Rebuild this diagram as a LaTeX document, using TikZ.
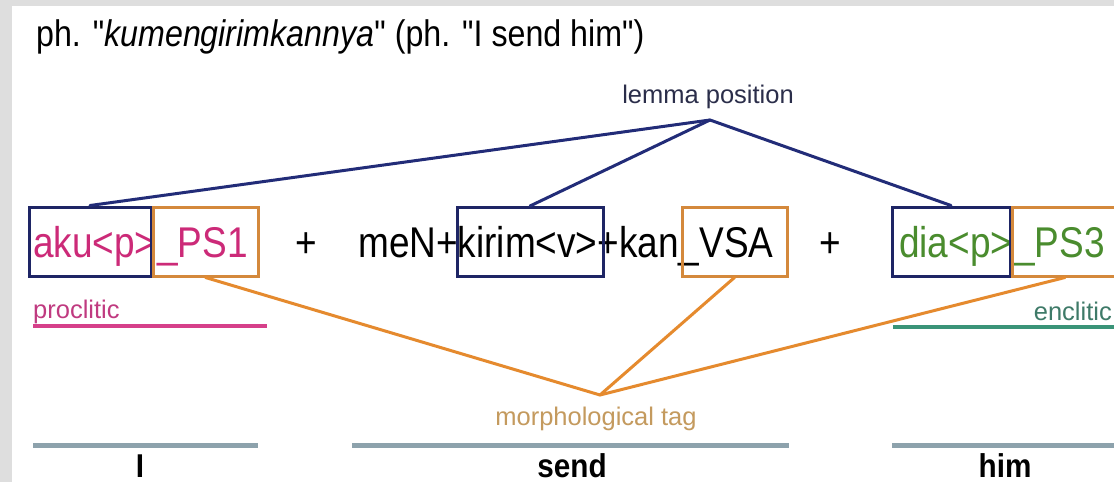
\documentclass[tikz,border=0pt]{standalone}
\usepackage{fontspec}
\setmainfont{Liberation Sans}
\newfontfamily\rowfont[FakeStretch=0.86]{Liberation Sans}
\newfontfamily\ttlfont[FakeStretch=0.87]{Liberation Sans}
\newfontfamily\labfont[FakeStretch=0.9]{Liberation Sans}
\definecolor{navy}{HTML}{1E2565}
\definecolor{navyline}{HTML}{222C78}
\definecolor{orline}{HTML}{E58A2E}
\definecolor{orboxcol}{HTML}{D4893C}
\definecolor{magtext}{HTML}{CC2A78}
\definecolor{proctext}{HTML}{C03A80}
\definecolor{procline}{HTML}{D6408A}
\definecolor{grntext}{HTML}{4A8C2E}
\definecolor{enctext}{HTML}{3E7A68}
\definecolor{encline}{HTML}{3A9478}
\definecolor{morphtext}{HTML}{C49A5E}
\definecolor{lemtext}{HTML}{2B2E4A}
\definecolor{glosscol}{HTML}{8DA2AC}
\definecolor{framecol}{HTML}{DEDEDE}
\tikzset{
  rowtxt/.style={inner sep=0pt, anchor=base west, font={\rowfont\fontsize{43}{43}\selectfont}},
  smalltxt/.style={inner sep=0pt, font={\fontsize{25.5}{26}\selectfont}},
  boxbase/.style={draw, line width=3pt, minimum height=69pt, inner sep=0pt},
  navybox/.style={boxbase, draw=navy},
  orbox/.style={boxbase, draw=orboxcol},
  navycon/.style={draw=navyline, line width=3pt, line cap=round},
  orcon/.style={draw=orline, line width=3pt, line cap=round},
  glossline/.style={draw=glosscol, line width=5pt},
  wordlab/.style={inner sep=0pt, anchor=base, font={\labfont\bfseries\fontsize{33}{33}\selectfont}},
}
\begin{document}
\begin{tikzpicture}[x=1pt,y=-1pt]
\useasboundingbox (0,0) rectangle (1114,482);
\clip (0,0) rectangle (1114,482);
\fill[framecol] (0,0) rectangle (1114,482);
\fill[white] (12,6) rectangle (1114,482);
% title
\node[inner sep=0pt, anchor=base west, font={\ttlfont\fontsize{37}{37}\selectfont}] (title) at (36,46)
  {ph. "\textit{kumengirimkannya}" (ph. "I send him")};
% row texts
\node[rowtxt, text=magtext] (tAku) at (33,257) {aku<p>};
\node[rowtxt, text=magtext] (tPSa) at (157,257) {\_PS1};
\node[rowtxt, anchor=base] (plusA) at (306,257) {+};
\node[rowtxt] (tSend) at (358,257) {meN+kirim<v>+kan\_VSA};
\node[rowtxt, anchor=base] (plusB) at (830,257) {+};
\node[rowtxt, text=grntext] (tDia) at (899,257) {dia<p>};
\node[rowtxt, text=grntext] (tPSc) at (1014,257) {\_PS3};
% boxes
\node[navybox, minimum width=122pt] (bAku) at (90,241.5) {};
\node[orbox, minimum width=105pt] (bPSa) at (205.5,241.5) {};
\node[navybox, minimum width=146pt] (bKirim) at (530,242) {};
\node[orbox, minimum width=105pt] (bVSA) at (734.5,241.5) {};
\node[navybox, minimum width=118pt] (bDia) at (951,241.5) {};
\node[orbox, minimum width=106pt] (bPSc) at (1065,241.5) {};
% lemma position
\coordinate (lemma) at (710,120);
\node[smalltxt, anchor=base, text=lemtext] (lemmaLbl) at (708,103) {lemma position};
\draw[navycon] (lemma) -- (bAku.north);
\draw[navycon] (lemma) -- (bKirim.north);
\draw[navycon] (lemma) -- (bDia.north);
% morphological tag
\coordinate (morph) at (600,395);
\node[smalltxt, anchor=base, text=morphtext] (morphLbl) at (596,425) {morphological tag};
\draw[orcon] (morph) -- (bPSa.south);
\draw[orcon] (morph) -- (bVSA.south);
\draw[orcon] (morph) -- (bPSc.south);
% clitic labels
\node[smalltxt, anchor=base west, text=proctext] (procl) at (33,318) {proclitic};
\draw[procline, line width=4pt] (33,326) -- (267,326);
\node[smalltxt, anchor=base east, text=enctext] (encl) at (1112,320) {enclitic};
\draw[encline, line width=4pt] (893,327) -- (1114,327);
% bottom lines and glosses
\draw[glossline] (33,445) -- (258,445);
\draw[glossline] (352,445) -- (789,445);
\draw[glossline] (892,445) -- (1114,445);
\node[wordlab] (gI) at (140,477) {I};
\node[wordlab] (gSend) at (572,477) {send};
\node[wordlab] (gHim) at (1005,477) {him};
\end{tikzpicture}
\end{document}
